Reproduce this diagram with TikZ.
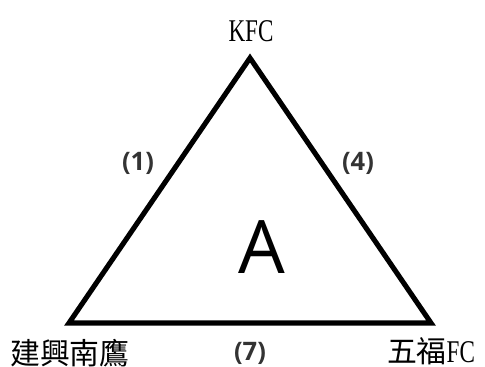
\documentclass[tikz,border=0pt]{standalone}
\usepackage{fontspec}
\newfontfamily\cjk{Noto Sans CJK TC}
\newfontfamily\narrowserif[FakeStretch=0.73]{Liberation Serif}
\newfontfamily\labelsans{Open Sans}
\usepackage{tikz}
\usetikzlibrary{positioning,calc}

\begin{document}
\begin{tikzpicture}[x=0.02cm, y=-0.02cm,
		team/.style={inner sep=0pt, font=\fontsize{17}{17}\selectfont},
		score/.style={inner sep=0pt, font=\labelsans\bfseries\fontsize{14.5}{14.5}\selectfont, text=black!80}]
						\useasboundingbox (0,0) rectangle (485,367);
						\coordinate (kfc) at (250, 58);
						\coordinate (jx) at (69, 323);
						\coordinate (wf) at (431, 323);
						\draw[line width=2.9pt] (kfc) -- (jx) -- (wf) -- cycle;
						\node[team, font=\narrowserif\fontsize{18}{18}\selectfont] (tkfc) at (251, 31) {KFC};
						\node[team] (tjx) at (70, 353) {\cjk 建興南鷹};
						\node[team] (twf) at (431, 351) {\cjk 五福\narrowserif\fontsize{18}{18}\selectfont FC};
						\node[score] (s1) at (138, 163) {(1)};
						\node[score] (s4) at (358, 163) {(4)};
						\node[score] (s7) at (250, 353) {(7)};
						\node[inner sep=0pt, font=\labelsans\fontsize{42}{42}\selectfont] (grp) at (262, 247) {A};

					\end{tikzpicture}
\end{document}
